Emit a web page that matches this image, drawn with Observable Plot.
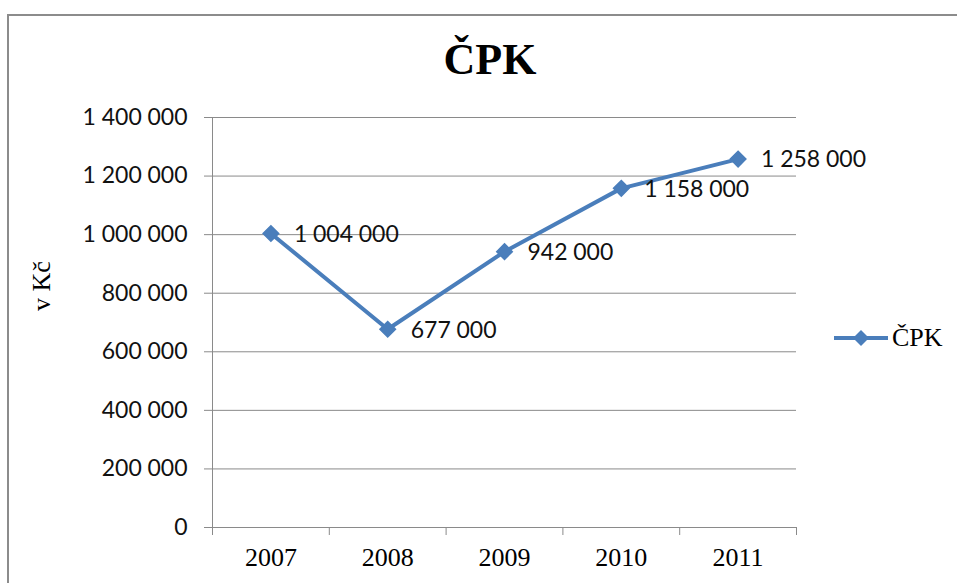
<!DOCTYPE html>
<html><head><meta charset="utf-8">
<script src="https://cdn.jsdelivr.net/npm/d3@7"></script>
<script src="https://cdn.jsdelivr.net/npm/@observablehq/plot@0.6"></script>
<style>
body{margin:0;background:#fff;}
#wrap{position:relative;width:957px;height:583px;overflow:hidden;background:#fff;}
#border{position:absolute;left:7px;top:14px;width:1000px;height:700px;border:2px solid #8c8c8c;box-sizing:border-box;}
#chart{position:absolute;left:0;top:0;}
#title{position:absolute;left:390px;width:200px;top:30px;text-align:center;font-family:"Liberation Serif",serif;font-weight:bold;font-size:44px;line-height:60px;color:#000;}
#ylabel{position:absolute;left:42px;top:286px;transform:translate(-50%,-50%) rotate(-90deg);font-family:"Liberation Serif",serif;font-size:26px;white-space:nowrap;color:#000;}
#legend{position:absolute;left:833px;top:323px;display:flex;align-items:center;font-family:"Liberation Serif",serif;font-size:26px;color:#000;}
</style></head>
<body>
<div id="wrap">
  <div id="border"></div>
  <div id="chart"></div>
  <div id="title"></div>
  <div id="ylabel"></div>
  <div id="legend"></div>
</div>
<script>
const years = ["2007", "2008", "2009", "2010", "2011"];
const values = [1004000, 677000, 942000, 1158000, 1258000];
const yTicks = [0, 200000, 400000, 600000, 800000, 1000000, 1200000, 1400000];
const seriesName = "ČPK";
const titleText = "ČPK";
const yLabelText = "v Kč";

const blue = "#4A7EBB";
const grey = "#8a8a8a";
const fmt = v => d3.format(",")(v).replace(/,/g, "\u202F");

const data = years.map((y, i) => ({i, year: y, value: values[i]}));
const centers = d3.range(years.length);
const bounds = d3.range(years.length + 1).map(k => k - 0.5);

const plot = Plot.plot({
  width: 957,
  height: 583,
  marginLeft: 212,
  marginRight: 161,
  marginTop: 117,
  marginBottom: 56,
  style: {fontFamily: "Lato, sans-serif", fontSize: "23px", color: "#000", background: "transparent"},
  x: {type: "linear", domain: [-0.5, years.length - 0.5]},
  y: {domain: [0, 1400000]},
  marks: [
    Plot.gridY(yTicks, {stroke: grey, strokeOpacity: 1}),
    Plot.axisY(yTicks, {tickSize: 8, tickPadding: 17, tickFormat: fmt, stroke: grey, fill: "#111", fontSize: 23, label: null}),
    Plot.ruleX([bounds[0]], {stroke: grey}),
    Plot.ruleY([0], {stroke: grey}),
    Plot.axisX(bounds, {tickSize: 8, tickFormat: () => "", stroke: grey, label: null}),
    Plot.axisX(centers, {tickSize: 0, tickPadding: 20, tickFormat: i => years[i], fontFamily: "Liberation Serif, serif", fontSize: 26, fill: "#000", label: null}),
    Plot.line(data, {x: "i", y: "value", stroke: blue, strokeWidth: 4, strokeLinejoin: "round"}),
    Plot.dot(data, {x: "i", y: "value", symbol: "diamond2", r: 7, fill: blue, stroke: blue}),
    Plot.text(data, {x: "i", y: "value", text: d => fmt(d.value), dx: 23, dy: 1, textAnchor: "start", fontSize: 23, fill: "#111"})
  ]
});
document.getElementById("chart").appendChild(plot);
document.getElementById("title").textContent = titleText;
document.getElementById("ylabel").textContent = yLabelText;
document.getElementById("legend").innerHTML =
  `<svg width="56" height="20"><line x1="1" y1="10" x2="55" y2="10" stroke="${blue}" stroke-width="4"/><path d="M28,2 L36,10 L28,18 L20,10 Z" fill="${blue}"/></svg><span style="margin-left:3px">${seriesName}</span>`;
</script>
</body></html>
